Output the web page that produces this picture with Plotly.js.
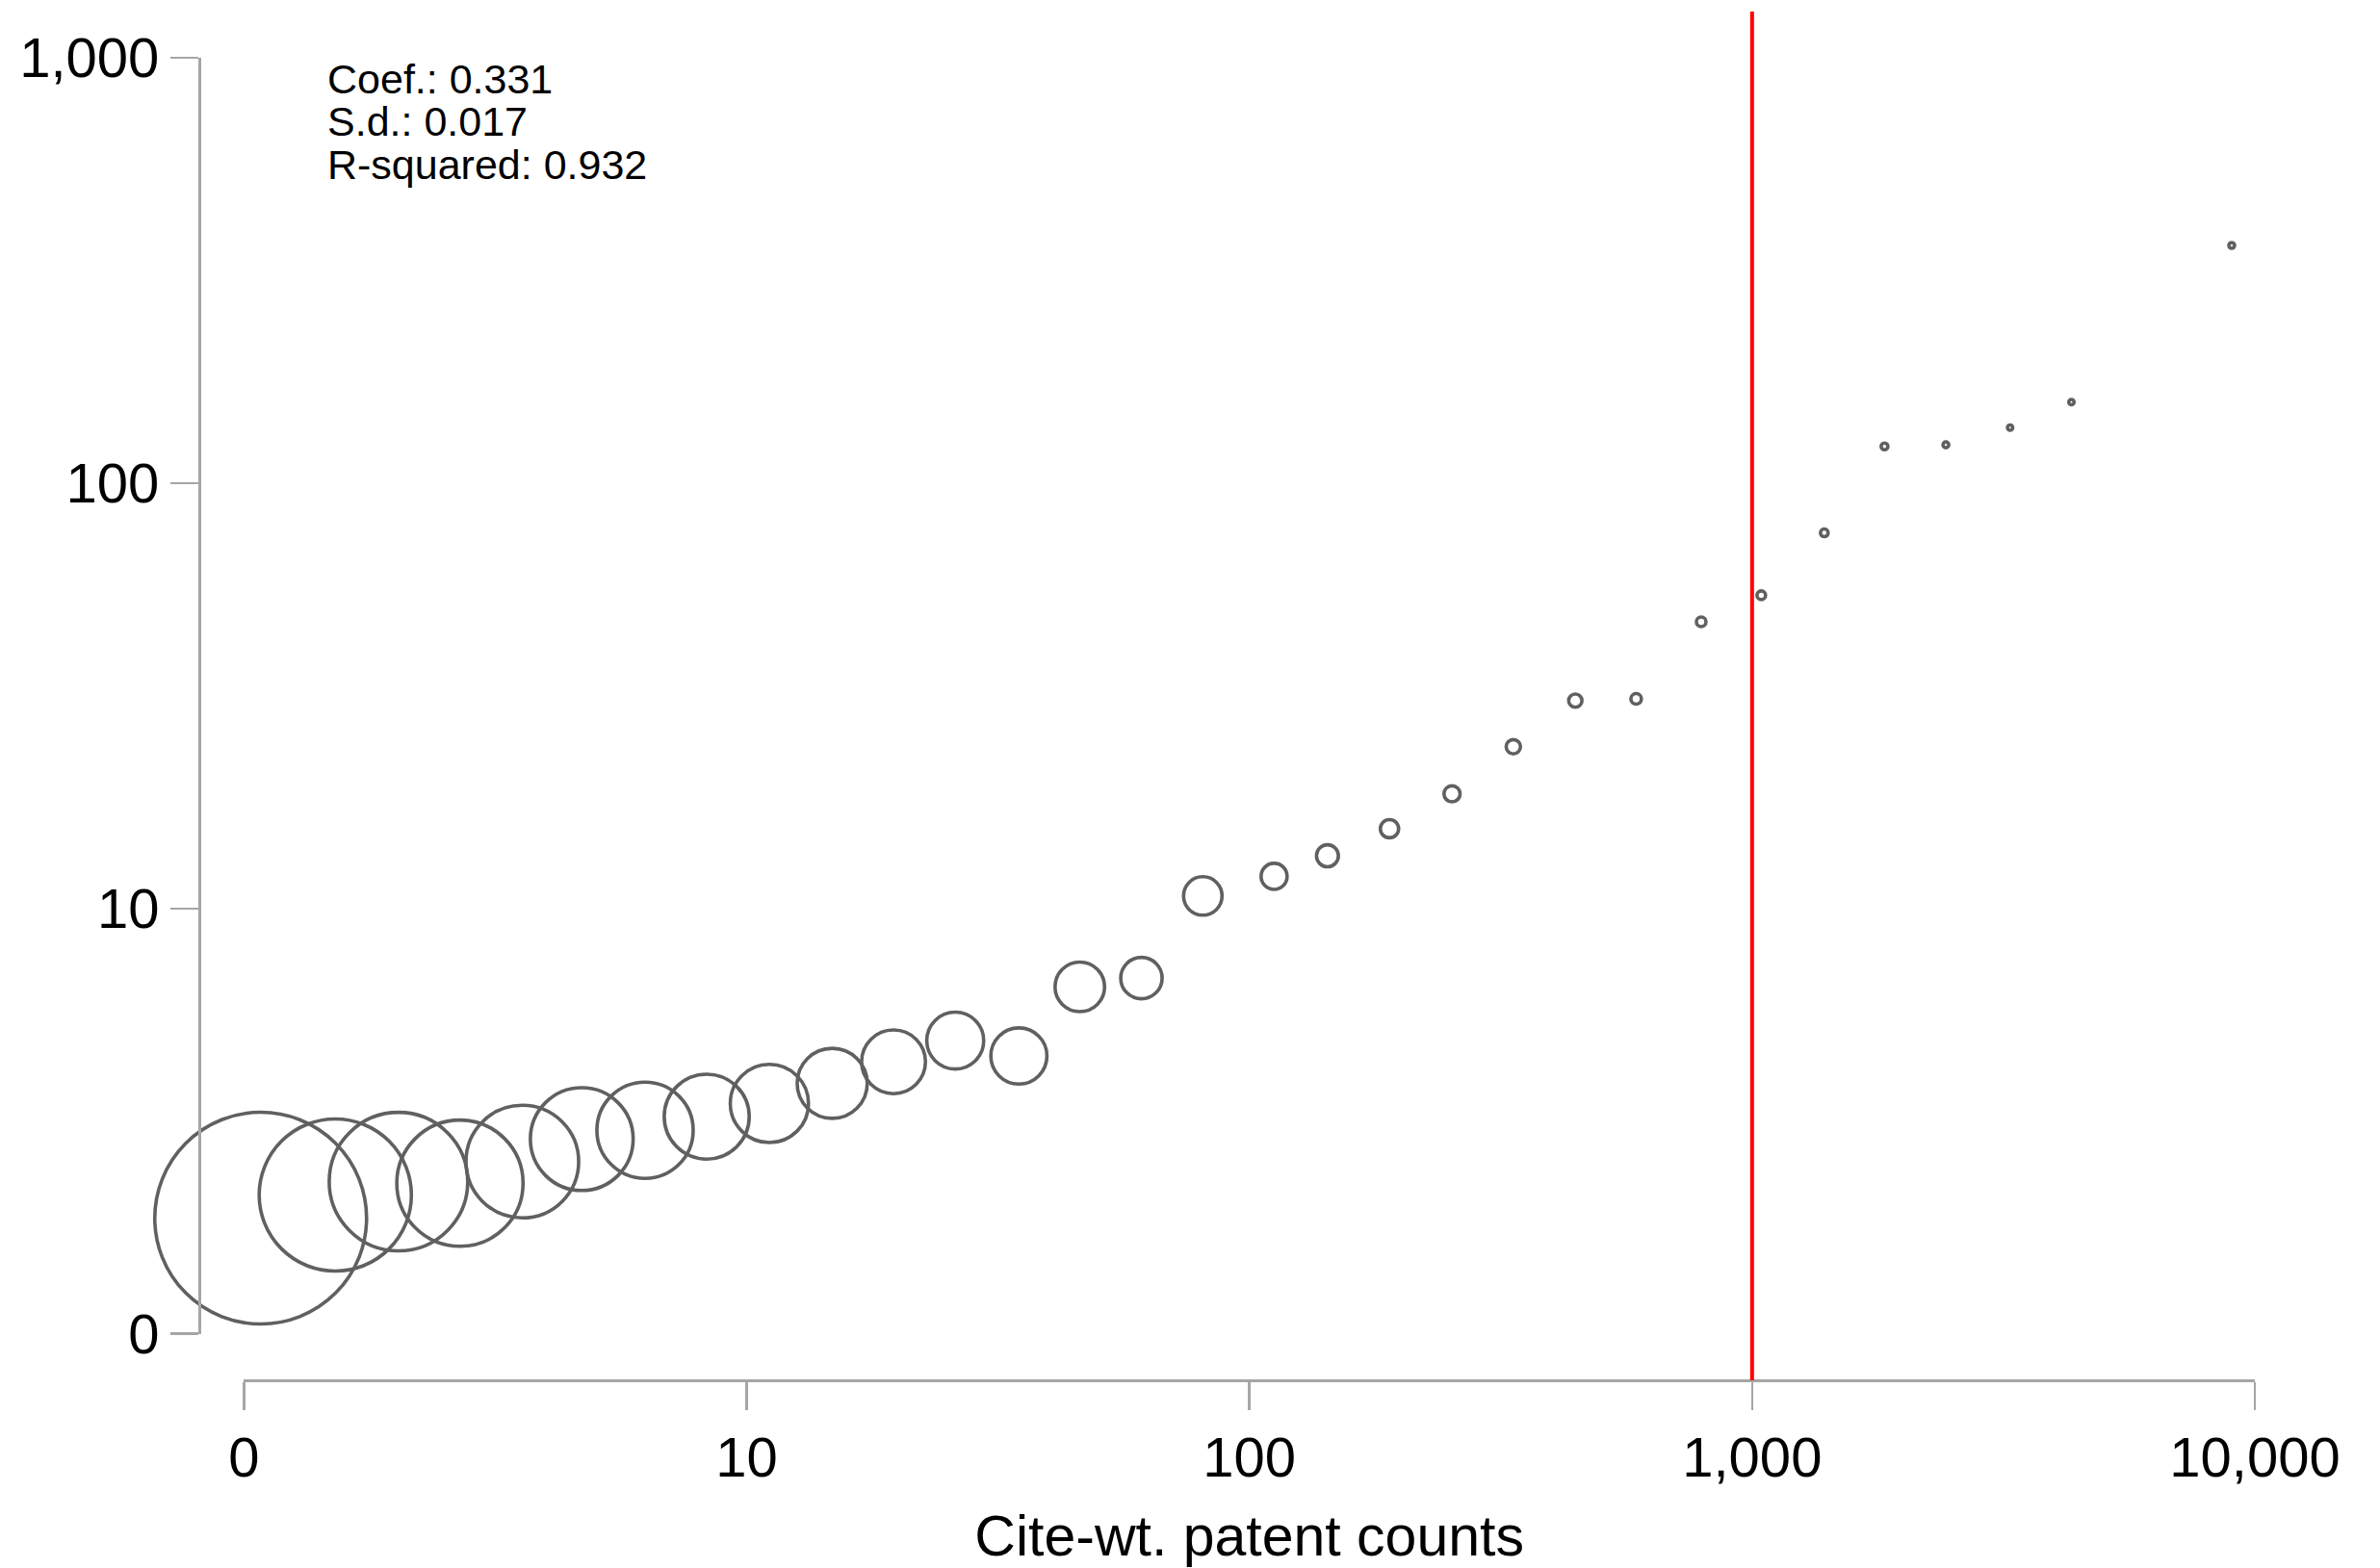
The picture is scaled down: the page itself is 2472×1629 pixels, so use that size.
<!DOCTYPE html>
<html>
<head>
<meta charset="utf-8">
<script src="https://cdn.plot.ly/plotly-3.0.1.min.js"></script>
<style>html,body{margin:0;padding:0;background:#fff;}#chart{width:2472px;height:1629px;}</style>
</head>
<body>
<div id="chart"></div>
<script>
// Binned data: x = cite-weighted patent counts, y = outcome, weight = bin weight (area of bubble)
const citeWtPatents = [1.08, 1.52, 2.03, 2.69, 3.58, 4.70, 6.28, 8.33, 11.1, 14.8, 19.6, 26.0, 34.8, 46.0, 61.0, 80.8, 112, 143, 190, 253, 335, 445, 588, 792, 1043, 1392, 1834, 2429, 3260, 4317, 8995];
const outcomeValues = [1.87, 2.12, 2.28, 2.26, 2.54, 2.87, 3.01, 3.24, 3.48, 3.88, 4.36, 4.89, 4.50, 6.54, 6.86, 10.7, 11.9, 13.3, 15.4, 18.6, 24.0, 30.8, 31.1, 47.2, 54.5, 76.4, 122, 123, 135, 155, 362];
const binWeights = [484, 250, 207, 172, 137, 114, 100, 78, 66, 53, 44, 35, 34, 26.5, 18.5, 16, 7.3, 5.2, 3.6, 2.8, 2.2, 1.9, 1.2, 1.0, 0.8, 0.64, 0.5, 0.36, 0.3, 0.3, 0.36];

const xTickVals = [1, 10, 100, 1000, 10000];
const xTickText = ['0', '10', '100', '1,000', '10,000'];
const yTickVals = [1, 10, 100, 1000];
const yTickText = ['0', '10', '100', '1,000'];
const cutoffX = 1000;
const statLines = ['Coef.: 0.331', 'S.d.: 0.017', 'R-squared: 0.932'];
const xTitle = 'Cite-wt. patent counts';

const FONT = 'Liberation Sans, Arial, Helvetica, sans-serif';
const AXIS_GRAY = '#a6a6a6';
const MARK_GRAY = '#606060';

const markerSizes = binWeights.map(w => 10 * Math.sqrt(w));

const trace = {
  type: 'scatter',
  mode: 'markers',
  x: citeWtPatents,
  y: outcomeValues,
  cliponaxis: false,
  hoverinfo: 'skip',
  marker: {
    symbol: 'circle',
    size: markerSizes,
    sizemode: 'diameter',
    opacity: 1,
    color: 'rgba(0,0,0,0)',
    line: {color: MARK_GRAY, width: 3.6}
  },
  showlegend: false
};

const W = 2472, H = 1629;
const mL = 207, mR = 130, mT = 60, mB = 195;
const pw = W - mL - mR, ph = H - mT - mB;

const layout = {
  width: W,
  height: H,
  margin: {l: mL, r: mR, t: mT, b: mB, pad: 0},
  paper_bgcolor: '#ffffff',
  plot_bgcolor: '#ffffff',
  font: {family: FONT, color: '#000000', size: 58},
  showlegend: false,
  xaxis: {
    type: 'log',
    range: [0, 4],
    domain: [46.3 / pw, 1],
    anchor: 'free',
    position: 0,
    showgrid: false,
    zeroline: false,
    showline: true,
    linecolor: AXIS_GRAY,
    linewidth: 2.5,
    ticks: 'outside',
    ticklen: 29,
    tickwidth: 2.5,
    tickcolor: AXIS_GRAY,
    tickmode: 'array',
    tickvals: xTickVals,
    ticktext: xTickText,
    tickfont: {family: FONT, size: 58, color: '#000'},
    ticklabelstandoff: 0,
    title: {text: xTitle, font: {family: FONT, size: 59, color: '#000'}, standoff: 30}
  },
  yaxis: {
    type: 'log',
    range: [0, 3],
    domain: [48.3 / ph, 1],
    anchor: 'free',
    position: 0,
    showgrid: false,
    zeroline: false,
    showline: true,
    linecolor: AXIS_GRAY,
    linewidth: 2.5,
    ticks: 'outside',
    ticklen: 29,
    tickwidth: 2.5,
    tickcolor: AXIS_GRAY,
    tickmode: 'array',
    tickvals: yTickVals,
    ticktext: yTickText,
    tickfont: {family: FONT, size: 58, color: '#000'}
  },
  shapes: [{
    type: 'line',
    xref: 'x',
    yref: 'paper',
    x0: cutoffX,
    x1: cutoffX,
    y0: 0,
    y1: (H - mB - 12) / ph,
    line: {color: '#ff0000', width: 4},
    layer: 'above'
  }],
  annotations: statLines.map((t, i) => ({
    text: t,
    xref: 'paper',
    yref: 'paper',
    x: (338 - mL) / pw,
    y: (H - mB - (82 + i * 44.5)) / ph,
    xanchor: 'left',
    yanchor: 'middle',
    showarrow: false,
    align: 'left',
    font: {family: FONT, size: 43, color: '#000'}
  }))
};

Plotly.newPlot('chart', [trace], layout, {staticPlot: true, displayModeBar: false});
</script>
</body>
</html>
